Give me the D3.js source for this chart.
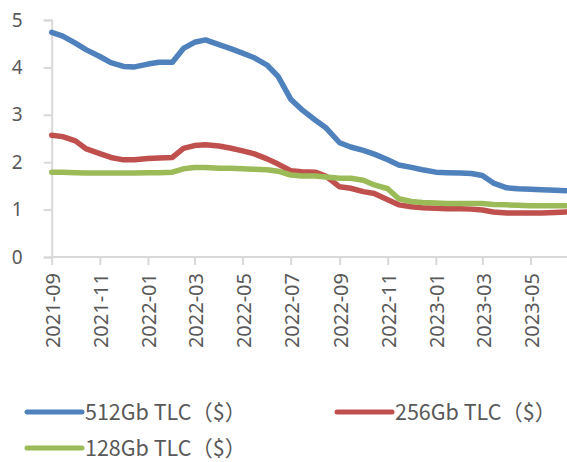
<!DOCTYPE html>
<html>
<head>
<meta charset="utf-8">
<script src="https://cdn.jsdelivr.net/npm/d3@7"></script>
<style>
  body { margin: 0; background: #fff; }
  svg { display: block; }
</style>
</head>
<body>
<svg id="chart" width="567" height="462"></svg>
<script>
// semi-monthly price points
const dates = ["2021-09-01","2021-09-15","2021-10-01","2021-10-15","2021-11-01","2021-11-15","2021-12-01","2021-12-15",
  "2022-01-01","2022-01-15","2022-02-01","2022-02-15","2022-03-01","2022-03-15","2022-04-01","2022-04-15",
  "2022-05-01","2022-05-15","2022-06-01","2022-06-15","2022-07-01","2022-07-15","2022-08-01","2022-08-15",
  "2022-09-01","2022-09-15","2022-10-01","2022-10-15","2022-11-01","2022-11-15","2022-12-01","2022-12-15",
  "2023-01-01","2023-01-15","2023-02-01","2023-02-15","2023-03-01","2023-03-15","2023-04-01","2023-04-15",
  "2023-05-01","2023-05-15","2023-06-01","2023-06-15"];

const tlc512 = [4.74,4.66,4.51,4.37,4.23,4.10,4.02,4.01,4.07,4.11,
  4.11,4.40,4.53,4.58,4.48,4.40,4.30,4.21,4.05,3.81,
  3.33,3.11,2.89,2.72,2.41,2.32,2.25,2.17,2.05,1.94,
  1.89,1.84,1.79,1.78,1.77,1.76,1.72,1.56,1.46,1.44,
  1.43,1.42,1.41,1.40];

const tlc256 = [2.57,2.54,2.45,2.28,2.18,2.10,2.05,2.05,2.08,2.09,
  2.10,2.29,2.35,2.37,2.34,2.30,2.24,2.18,2.07,1.96,
  1.82,1.80,1.79,1.70,1.48,1.45,1.38,1.34,1.21,1.10,
  1.06,1.04,1.03,1.02,1.02,1.01,0.99,0.95,0.93,0.93,
  0.93,0.93,0.94,0.95];

const tlc128 = [1.79,1.79,1.78,1.77,1.77,1.77,1.77,1.77,1.78,1.78,
  1.79,1.86,1.89,1.89,1.87,1.87,1.86,1.85,1.84,1.81,
  1.73,1.71,1.71,1.69,1.66,1.66,1.62,1.52,1.44,1.23,
  1.17,1.15,1.14,1.13,1.13,1.13,1.13,1.11,1.10,1.09,
  1.08,1.08,1.08,1.08];

const yTicks = [0, 1, 2, 3, 4, 5];
const seriesNames = ["512Gb TLC（$）", "256Gb TLC（$）", "128Gb TLC（$）"];
const seriesColors = ["#4f81bd", "#c0504d", "#9bbb59"];

const svg = d3.select("#chart");
const parse = d3.timeParse("%Y-%m-%d");
const xDates = dates.map(parse);

const plotLeft = 51.7, plotRight = 566, plotTop = 20, plotBottom = 257;

const x = d3.scaleTime()
    .domain(d3.extent(xDates))
    .range([plotLeft, plotRight]);

const y = d3.scaleLinear()
    .domain([0, 5])
    .range([plotBottom, plotTop]);

const textColor = "#595959";
const axisColor = "#d9d9d9";

// y axis
const yAxis = svg.append("g")
    .attr("transform", `translate(${plotLeft},0)`)
    .call(d3.axisLeft(y).tickValues(yTicks).tickSize(8).tickPadding(21).tickFormat(d3.format("d")));
yAxis.select(".domain").attr("stroke", axisColor).attr("stroke-width", 2);
yAxis.selectAll(".tick line").attr("stroke", axisColor).attr("stroke-width", 2);
yAxis.selectAll("text")
    .attr("fill", textColor)
    .style("font-family", "Noto Sans")
    .style("font-size", "19px");

// x axis
const xAxis = svg.append("g")
    .attr("transform", `translate(0,${plotBottom})`)
    .call(d3.axisBottom(x)
        .ticks(d3.timeMonth.every(2))
        .tickSize(8)
        .tickSizeOuter(0)
        .tickFormat(d3.timeFormat("%Y-%m")));
xAxis.select(".domain").attr("stroke", axisColor).attr("stroke-width", 2)
    .attr("d", `M${plotLeft},0H567`);
xAxis.selectAll(".tick line").attr("stroke", axisColor).attr("stroke-width", 2);
xAxis.selectAll("text")
    .attr("fill", textColor)
    .style("font-family", "Noto Sans")
    .style("font-size", "20px")
    .attr("text-anchor", "end")
    .attr("dy", null)
    .attr("y", 0)
    .attr("transform", "translate(8,16) rotate(-90)");

// lines
const line = d3.line()
    .x((d, i) => x(xDates[i]))
    .y(d => y(d))
    .curve(d3.curveLinear);

const allSeries = [tlc512, tlc256, tlc128];

svg.append("g")
    .selectAll("path")
    .data(allSeries)
    .enter()
    .append("path")
    .attr("d", line)
    .attr("fill", "none")
    .attr("stroke", (d, i) => seriesColors[i])
    .attr("stroke-width", 5.5)
    .attr("stroke-linejoin", "round")
    .attr("stroke-linecap", "round");

// legend
const legendPos = [[27, 412], [337, 412], [27, 448]];
const legend = svg.append("g")
    .selectAll("g")
    .data(seriesNames)
    .enter()
    .append("g")
    .attr("transform", (d, i) => `translate(${legendPos[i][0]},${legendPos[i][1]})`);

legend.append("line")
    .attr("x1", 0)
    .attr("x2", 55)
    .attr("stroke", (d, i) => seriesColors[i])
    .attr("stroke-width", 5)
    .attr("stroke-linecap", "round");

legend.append("text")
    .attr("x", 58)
    .attr("dy", "0.35em")
    .attr("fill", textColor)
    .style("font-family", "'Noto Sans CJK SC', 'Noto Sans'")
    .style("font-size", "21.5px")
    .text(d => d);
</script>
</body>
</html>
